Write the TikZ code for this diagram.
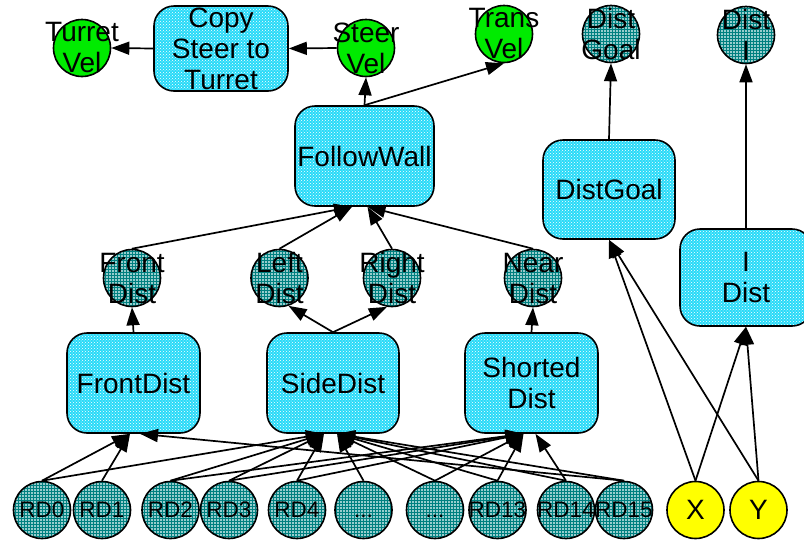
\documentclass[tikz,border=0pt]{standalone}
\usepackage{fontspec}
\setmainfont{Liberation Sans}
\usetikzlibrary{arrows.meta,patterns}
\definecolor{boxcyan}{RGB}{40,218,248}
\definecolor{gridteal}{RGB}{0,128,128}
\definecolor{gridbase}{RGB}{150,205,205}
\definecolor{velgreen}{RGB}{0,235,0}
\definecolor{inyellow}{RGB}{255,255,0}
\begin{document}
\begin{tikzpicture}[x=1pt,y=-1pt,
  module/.style={draw, line width=1.6pt, rounded corners=20pt,
    preaction={fill=boxcyan}, pattern=crosshatch dots, pattern color=white,
    minimum width=133pt, minimum height=100pt, inner sep=0pt, align=center,
    font=\fontsize{28}{31}\selectfont},
  blob/.style={circle, draw, line width=1.6pt, minimum size=57pt, inner sep=0pt},
  sensor/.style={blob, preaction={fill=gridbase}, pattern=grid, pattern color=gridteal},
  velnode/.style={blob, fill=velgreen},
  innode/.style={blob, fill=inyellow},
  ctext/.style={align=center, inner sep=0pt, font=\fontsize{28}{31}\selectfont},
  rtext/.style={align=center, inner sep=0pt, font=\fontsize{22.5}{26}\selectfont},
  arr/.style={-{Triangle[length=18pt,width=13pt]}, line width=1.7pt}]
\useasboundingbox (0,0) rectangle (804,539);

% outputs and top-level behaviours
\node[velnode, label={[ctext]center:{Turret\\Vel}}] (turretvel) at (82,48) {};
\node[module, minimum width=134pt, minimum height=85pt] (copy) at (221,48.5) {Copy\\Steer to\\Turret};
\node[velnode, label={[ctext]center:{Steer\\Vel}}] (steervel) at (366,48) {};
\node[velnode, label={[ctext]center:{Trans\\Vel}}] (transvel) at (504,34) {};
\node[sensor, label={[ctext]center:{Dist\\Goal}}] (distgoalv) at (611,34) {};
\node[sensor, label={[ctext]center:{Dist\\I}}] (distiv) at (746,35) {};

\node[module, minimum width=139pt] (follow) at (364.5,156) {FollowWall};
\node[module, minimum width=132pt, minimum height=99pt] (distgoal) at (609,189.5) {DistGoal};
\node[module, minimum width=132pt, minimum height=97pt] (idist) at (746,277.5) {I\\Dist};

% intermediate distances
\node[sensor, label={[ctext]center:{Front\\Dist}}] (frontv) at (132,278) {};
\node[sensor, label={[ctext]center:{Left\\Dist}}] (leftv) at (279.5,278) {};
\node[sensor, label={[ctext]center:{Right\\Dist}}] (rightv) at (392,278) {};
\node[sensor, label={[ctext]center:{Near\\Dist}}] (nearv) at (533,278) {};

\node[module] (frontdist) at (133.5,383) {FrontDist};
\node[module, minimum width=132pt] (sidedist) at (333,383) {SideDist};
\node[module] (shorted) at (531.5,383) {Shorted\\Dist};

% range sensors and position inputs
\node[sensor, label={[rtext]center:RD0}] (rd0) at (42,510) {};
\node[sensor, label={[rtext]center:RD1}] (rd1) at (102,510) {};
\node[sensor, label={[rtext]center:RD2}] (rd2) at (170.5,510) {};
\node[sensor, label={[rtext]center:RD3}] (rd3) at (229,510) {};
\node[sensor, label={[rtext]center:RD4}] (rd4) at (297,510) {};
\node[sensor, label={[rtext]center:{\vphantom{D}...}}] (dotsa) at (363.5,510) {};
\node[sensor, label={[rtext]center:{\vphantom{D}...}}] (dotsb) at (435,510) {};
\node[sensor, label={[rtext]center:RD13}] (rd13) at (497.5,510) {};
\node[sensor, label={[rtext]center:RD14}] (rd14) at (566,510) {};
\node[sensor, label={[rtext]center:RD15}] (rd15) at (624,510) {};
\node[innode, label={[ctext]center:X}] (xin) at (695.5,510) {};
\node[innode, label={[ctext]center:Y}] (yin) at (758.5,510) {};

% top connections
\draw[arr] (copy.west) -- (turretvel.east);
\draw[arr] (steervel.west) -- (copy.east);
\draw[arr] (follow.north) -- (steervel.south);
\draw[arr] (follow.north) -- (transvel.south);
\draw[arr] (distgoal.north) -- (distgoalv.south);
\draw[arr] (idist.north) -- (distiv.south);

% distances into FollowWall
\draw[arr] (frontv.north) -- ([xshift=-12.5pt]follow.south);
\draw[arr] (leftv.north) -- ([xshift=-12.5pt]follow.south);
\draw[arr] (rightv.north) -- ([xshift=3pt]follow.south);
\draw[arr] (nearv.north) -- ([xshift=3pt]follow.south);

% modules to their distance outputs
\draw[arr] (frontdist.north) -- (frontv.south);
\draw[arr] (sidedist.north) -- (leftv.-72);
\draw[arr] (sidedist.north) -- (rightv.-100);
\draw[arr] (shorted.north) -- (nearv.south);

% sensors into FrontDist
\foreach \s in {rd0,rd1} \draw[arr] (\s.north) -- ([xshift=-3.5pt]frontdist.south);
\draw[arr] (rd15.north) -- ([xshift=6.5pt]frontdist.south);

% sensors into SideDist
\foreach \s in {rd0,rd2,rd3,rd4} \draw[arr] (\s.north) -- ([xshift=-9pt]sidedist.south);
\foreach \s in {dotsa,dotsb,rd13,rd14,rd15} \draw[arr] (\s.north) -- ([xshift=4pt]sidedist.south);

% sensors into Shorted Dist
\foreach \s in {rd2,rd3,rd4,dotsb,rd13} \draw[arr] (\s.north) -- ([xshift=-8pt]shorted.south);
\draw[arr] (rd14.north) -- ([xshift=4pt]shorted.south);

% position inputs
\foreach \s in {xin,yin} {
  \draw[arr] (\s.north) -- (distgoal.south);
  \draw[arr] (\s.north) -- (idist.south);
}
\end{tikzpicture}
\end{document}
